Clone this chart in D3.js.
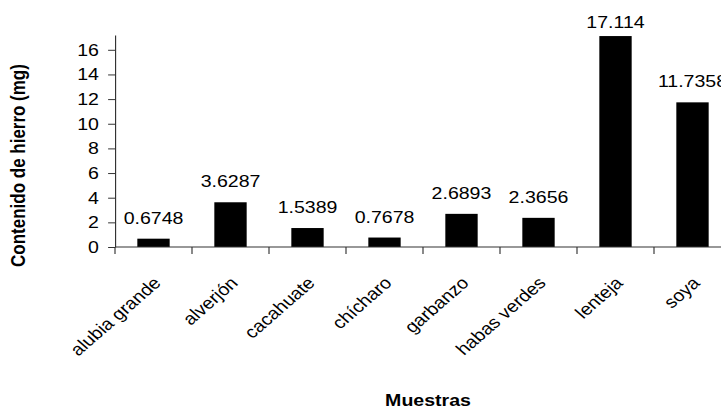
<!DOCTYPE html>
<html>
<head>
<meta charset="utf-8">
<script src="https://cdn.jsdelivr.net/npm/d3@7"></script>
<style>
  html, body { margin: 0; padding: 0; background: #fff; }
  svg { display: block; font-family: "Liberation Sans", Arial, sans-serif; }
</style>
</head>
<body>
<script>
// Contenido de hierro por muestra

// Data
const categories = ["alubia grande", "alverjón", "cacahuate", "chícharo", "garbanzo", "habas verdes", "lenteja", "soya"];
const values = [0.6748, 3.6287, 1.5389, 0.7678, 2.6893, 2.3656, 17.114, 11.7358];
const yTicks = [0, 2, 4, 6, 8, 10, 12, 14, 16];
const yMax = 17.2;

// Page size and horizontal stretch of the original picture
const W = 721, H = 410;
const sx = 1.15;          // text in the reference is a bit wide
const vw = W / sx;        // viewBox width

const plotLeft = 115 / sx, plotRight = 731 / sx;
const plotTop = 35, plotBottom = 247;

const svg = d3.select("body")
  .append("svg")
  .attr("width", W)
  .attr("height", H)
  .attr("viewBox", "0 0 " + vw + " " + H)
  .attr("preserveAspectRatio", "none");

// Scales
const x = d3.scaleBand()
  .domain(categories)
  .range([plotLeft, plotRight])
  .padding(0);

const y = d3.scaleLinear()
  .domain([0, yMax])
  .range([plotBottom, plotTop]);

const bw = x.bandwidth();

// Bars
svg.selectAll("rect.bar")
  .data(values)
  .enter()
  .append("rect")
  .attr("class", "bar")
  .attr("x", (d, i) => x(categories[i]) + bw * 0.29)
  .attr("y", d => y(d))
  .attr("width", bw * 0.42)
  .attr("height", d => y(0) - y(d))
  .attr("fill", "#000");

// Value labels
svg.selectAll("text.val")
  .data(values)
  .enter()
  .append("text")
  .attr("class", "val")
  .attr("x", (d, i) => x(categories[i]) + bw / 2)
  .attr("y", d => Math.max(y(d) - 15, 28))
  .attr("text-anchor", "middle")
  .style("font-size", "17px")
  .text(d => d);

// Left axis
const leftAxis = d3.axisLeft(y)
  .tickValues(yTicks)
  .tickSize(6)
  .tickSizeOuter(0)
  .tickPadding(8);

const gy = svg.append("g")
  .attr("transform", "translate(" + plotLeft + ",0)")
  .call(leftAxis);
gy.selectAll("text").style("font-size", "17px").attr("fill", "#000");
gy.selectAll("line, path").attr("stroke", "#333");

// Bottom axis (ticks between categories)
const gx = svg.append("g");
gx.append("line")
  .attr("x1", plotLeft).attr("x2", plotRight)
  .attr("y1", y(0)).attr("y2", y(0))
  .attr("stroke", "#333");
const bounds = categories.map(c => x(c)).concat([plotRight]);
gx.selectAll("line.tick")
  .data(bounds)
  .enter()
  .append("line")
  .attr("class", "tick")
  .attr("x1", d => d).attr("x2", d => d)
  .attr("y1", y(0)).attr("y2", y(0) + 7)
  .attr("stroke", "#333");

// Category labels
gx.selectAll("text.cat")
  .data(categories)
  .enter()
  .append("text")
  .attr("class", "cat")
  .attr("text-anchor", "end")
  .attr("transform", d => "translate(" + (x(d) + bw / 2 + 7.4) + "," + 284 + ") rotate(-45)")
  .style("font-size", "17px")
  .text(d => d);

// Axis titles
svg.append("text")
  .attr("x", 428 / sx)
  .attr("y", 406)
  .attr("text-anchor", "middle")
  .style("font-size", "17px")
  .style("font-weight", "bold")
  .text("Muestras");

svg.append("text")
  .attr("transform", "translate(" + (25 / sx) + "," + 165.5 + ") rotate(-90)")
  .attr("text-anchor", "middle")
  .style("font-size", "17px")
  .style("font-weight", "bold")
  .text("Contenido de hierro (mg)");
</script>
</body>
</html>
